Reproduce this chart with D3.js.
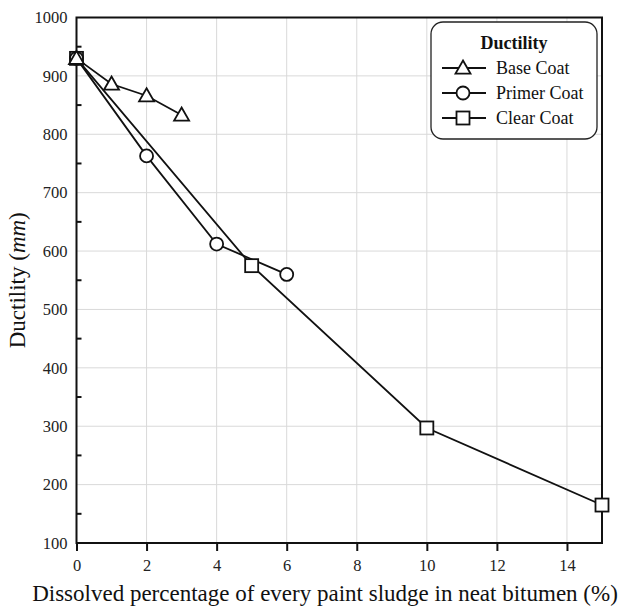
<!DOCTYPE html>
<html>
<head>
<meta charset="utf-8">
<script src="https://cdn.jsdelivr.net/npm/d3@7"></script>
<style>
  body { margin: 0; background: #fff; }
  svg { display: block; font-family: "Liberation Serif", "Times New Roman", serif; }
  .tick text { font-family: "Liberation Serif", "Times New Roman", serif; font-size: 16.5px; }
</style>
</head>
<body>
<svg id="chart" width="619" height="608"></svg>
<script>
// data
var baseX = [0, 1, 2, 3];
var baseY = [930, 886, 866, 833];
var primerX = [0, 2, 4, 6];
var primerY = [930, 763, 612, 560];
var clearX = [0, 5, 10, 15];
var clearY = [930, 575, 297, 165];
var seriesNames = ['Base Coat', 'Primer Coat', 'Clear Coat'];
var seriesShapes = ['triangle', 'circle', 'square'];
var xTicks = [0, 2, 4, 6, 8, 10, 12, 14];
var yTicks = [100, 200, 300, 400, 500, 600, 700, 800, 900, 1000];

(function() {
  var ink = '#111';
  var svg = d3.select('#chart');
  var mLeft = 76.5, mRight = 602, mTop = 17.5, mBottom = 543;

  var x = d3.scaleLinear().domain([0, 15]).range([mLeft, mRight]);
  var y = d3.scaleLinear().domain([100, 1000]).range([mBottom, mTop]);

  // grid
  var grid = svg.append('g').attr('stroke', '#d9d9d9').attr('stroke-width', 1);
  xTicks.filter(function(d) { return d > 0; }).forEach(function(d) {
    grid.append('line').attr('x1', x(d)).attr('x2', x(d)).attr('y1', mTop).attr('y2', mBottom);
  });
  yTicks.filter(function(d) { return d > 100 && d < 1000; }).forEach(function(d) {
    grid.append('line').attr('x1', mLeft).attr('x2', mRight).attr('y1', y(d)).attr('y2', y(d));
  });

  // x axis: ticks outward, labels below
  var xAxis = d3.axisBottom(x).tickValues(xTicks).tickFormat(d3.format('d'))
    .tickSize(8).tickPadding(8).tickSizeOuter(0);
  var gx = svg.append('g').attr('transform', 'translate(0,' + mBottom + ')').call(xAxis);
  gx.select('.domain').remove();
  gx.selectAll('line').attr('stroke', ink).attr('stroke-width', 2);
  gx.selectAll('text').attr('fill', '#222');

  // y axis: labels, minor ticks inward
  var yAxis = d3.axisLeft(y).tickValues(yTicks).tickFormat(d3.format('d')).tickSize(0).tickPadding(9);
  var gy = svg.append('g').attr('transform', 'translate(' + mLeft + ',0)').call(yAxis);
  gy.select('.domain').remove();
  gy.selectAll('text').attr('fill', '#222');
  var minor = d3.range(150, 1000, 100);
  svg.append('g').selectAll('line').data(minor).enter().append('line')
    .attr('x1', mLeft).attr('x2', mLeft + 5)
    .attr('y1', function(d) { return y(d); }).attr('y2', function(d) { return y(d); })
    .attr('stroke', ink).attr('stroke-width', 2);

  // frame
  svg.append('rect').attr('x', mLeft).attr('y', mTop).attr('width', mRight - mLeft).attr('height', mBottom - mTop)
    .attr('fill', 'none').attr('stroke', ink).attr('stroke-width', 2);

  // axis titles
  svg.append('text').attr('x', 325).attr('y', 601).attr('text-anchor', 'middle')
    .attr('font-size', 23).attr('fill', '#111')
    .text('Dissolved percentage of every paint sludge in neat bitumen (%)');
  var yl = svg.append('text').attr('transform', 'translate(25,' + ((mTop + mBottom) / 2) + ') rotate(-90)')
    .attr('text-anchor', 'middle').attr('font-size', 23).attr('fill', '#111');
  yl.append('tspan').text('Ductility (');
  yl.append('tspan').attr('font-style', 'italic').text('mm');
  yl.append('tspan').text(')');

  function marker(g, shape, cx, cy) {
    if (shape === 'triangle') {
      var s = 7.5;
      g.append('path')
        .attr('d', 'M' + cx + ',' + (cy - s) + 'L' + (cx + s) + ',' + (cy + s * 0.75) + 'L' + (cx - s) + ',' + (cy + s * 0.75) + 'Z')
        .attr('fill', '#fff').attr('stroke', ink).attr('stroke-width', 1.8);
    } else if (shape === 'circle') {
      g.append('circle').attr('cx', cx).attr('cy', cy).attr('r', 6.5)
        .attr('fill', '#fff').attr('stroke', ink).attr('stroke-width', 1.8);
    } else {
      g.append('rect').attr('x', cx - 6.5).attr('y', cy - 6.5).attr('width', 13).attr('height', 13)
        .attr('fill', '#fff').attr('stroke', ink).attr('stroke-width', 1.8);
    }
  }

  var series = [
    { xs: baseX, ys: baseY },
    { xs: primerX, ys: primerY },
    { xs: clearX, ys: clearY }
  ];

  var line = d3.line().x(function(d) { return x(d[0]); }).y(function(d) { return y(d[1]); });

  // lines first, then markers
  var plot = svg.append('g');
  series.forEach(function(s) {
    var pts = s.xs.map(function(v, i) { return [v, s.ys[i]]; });
    plot.append('path').attr('d', line(pts)).attr('fill', 'none').attr('stroke', ink).attr('stroke-width', 1.8);
  });
  // square drawn first so the triangle sits on top at the origin
  [2, 1, 0].forEach(function(k) {
    var s = series[k];
    s.xs.forEach(function(v, i) {
      marker(plot, seriesShapes[k], x(v), y(s.ys[i]));
    });
  });

  // legend
  var lg = svg.append('g');
  lg.append('rect').attr('x', 431).attr('y', 22).attr('width', 166).attr('height', 117).attr('rx', 12)
    .attr('fill', '#fff').attr('stroke', '#222').attr('stroke-width', 1.3);
  lg.append('text').attr('x', 514).attr('y', 49).attr('text-anchor', 'middle')
    .attr('font-size', 18).attr('font-weight', 'bold').attr('fill', '#111').text('Ductility');
  seriesNames.forEach(function(name, i) {
    var ly = 68 + i * 25;
    lg.append('line').attr('x1', 442).attr('x2', 486).attr('y1', ly).attr('y2', ly)
      .attr('stroke', ink).attr('stroke-width', 1.8);
    marker(lg, seriesShapes[i], 463, ly);
    lg.append('text').attr('x', 496).attr('y', ly + 6).attr('font-size', 18).attr('fill', '#111').text(name);
  });
})();
</script>
</body>
</html>
